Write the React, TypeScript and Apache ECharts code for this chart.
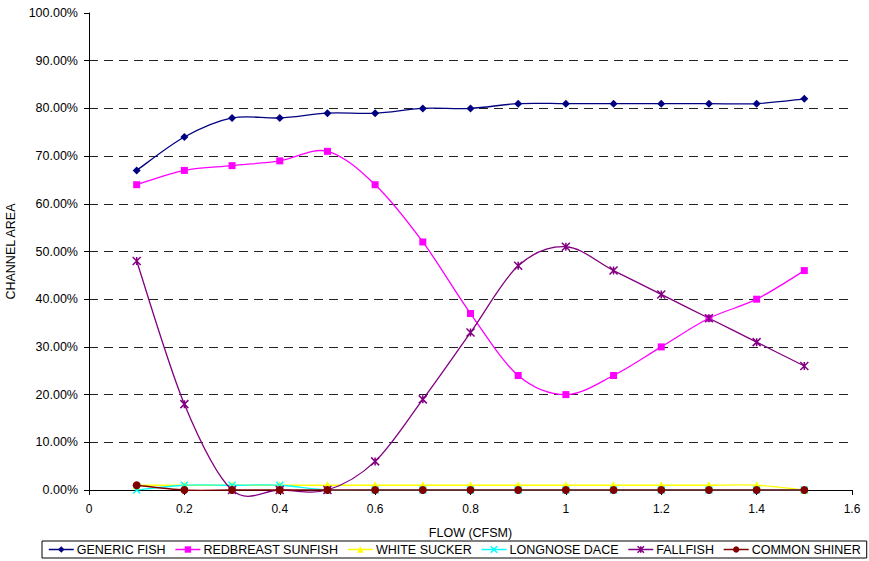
import React, { useEffect, useRef } from "react";
import * as echarts from "echarts";

const flows = [0.1, 0.2, 0.3, 0.4, 0.5, 0.6, 0.7, 0.8, 0.9, 1.0, 1.1, 1.2, 1.3, 1.4, 1.5];
const genericFish = [67, 74, 78, 78, 79, 79, 80, 80, 81, 81, 81, 81, 81, 81, 82];
const redbreastSunfish = [64, 67, 68, 69, 71, 64, 52, 37, 24, 20, 24, 30, 36, 40, 46];
const whiteSucker = [1, 1, 1, 1, 1, 1, 1, 1, 1, 1, 1, 1, 1, 1, 0];
const longnoseDace = [0, 1, 1, 1, 0, 0, 0, 0, 0, 0, 0, 0, 0, 0, 0];
const fallfish = [48, 18, 0, 0, 0, 6, 19, 33, 47, 51, 46, 41, 36, 31, 26];
const commonShiner = [1, 0, 0, 0, 0, 0, 0, 0, 0, 0, 0, 0, 0, 0, 0];

const seriesDefs = [
  { name: "GENERIC FISH", data: genericFish, color: "#000080", symbol: "diamond", size: 8 },
  { name: "REDBREAST SUNFISH", data: redbreastSunfish, color: "#FF00FF", symbol: "rect", size: 7 },
  { name: "WHITE SUCKER", data: whiteSucker, color: "#FFFF00", symbol: "triangle", size: 8 },
  { name: "LONGNOSE DACE", data: longnoseDace, color: "#00FFFF", symbol: "path://M0,0L10,10M10,0L0,10", size: 7, stroke: true },
  { name: "FALLFISH", data: fallfish, color: "#800080", symbol: "path://M0,0L10,10M10,0L0,10M5,0L5,10", size: 8, stroke: true },
  { name: "COMMON SHINER", data: commonShiner, color: "#800000", symbol: "circle", size: 8 },
];

export default function App() {
  const ref = useRef<HTMLDivElement>(null);
  useEffect(() => {
    if (!ref.current) return;
    const chart = echarts.init(ref.current, null, { renderer: "svg" });
    const font = "Liberation Sans, Arial, sans-serif";
    const gridColors = ["transparent", "#222", "#222", "#222", "#222", "#222", "#222", "#222", "#222", "#222", "transparent"];

    // Excel-style (Catmull-Rom) smoothed curves drawn through the axes' own coordinates
    const curveSeries = seriesDefs.map((s, si) => ({
      type: "custom",
      name: "curve_" + si,
      z: 2 + si * 0.01,
      clip: false,
      silent: true,
      coordinateSystem: "cartesian2d",
      data: flows.map((f, j) => [f, s.data[j]]),
      encode: { x: 0, y: 1 },
      renderItem: (params: any, api: any) => {
        const i = params.dataIndexInside;
        const n = params.dataInsideLength;
        if (i >= n - 1) return null;
        const pt = (k: number) => api.coord([api.value(0, k), api.value(1, k)]);
        const p0 = pt(Math.max(i - 1, 0));
        const p1 = pt(i);
        const p2 = pt(i + 1);
        const p3 = pt(Math.min(i + 2, n - 1));
        const c1x = p1[0] + (p2[0] - p0[0]) / 6;
        const c1y = p1[1] + (p2[1] - p0[1]) / 6;
        const c2x = p2[0] - (p3[0] - p1[0]) / 6;
        const c2y = p2[1] - (p3[1] - p1[1]) / 6;
        return {
          type: "bezierCurve",
          shape: { x1: p1[0], y1: p1[1], x2: p2[0], y2: p2[1], cpx1: c1x, cpy1: c1y, cpx2: c2x, cpy2: c2y },
          style: { stroke: s.color, lineWidth: 1.3, fill: "none" },
        };
      },
    }));

    const markerSeries = seriesDefs.map((s, i) => ({
      name: s.name,
      type: "line",
      z: 5 + i * 0.01,
      clip: false,
      symbol: s.symbol,
      symbolSize: s.size,
      showAllSymbol: true,
      data: flows.map((f, j) => [f, s.data[j]]),
      lineStyle: { color: s.color, width: 0, opacity: 0 },
      itemStyle: {
        color: s.color,
        borderColor: s.color,
        borderWidth: s.stroke ? 1.5 : 0,
        opacity: 1,
      },
      emphasis: { disabled: true },
    }));

    chart.setOption({
      animation: false,
      backgroundColor: "#fff",
      textStyle: { fontFamily: font },
      grid: { left: 89, right: 17, top: 13, bottom: 71, containLabel: false, outerBoundsMode: "none" },
      legend: {
        left: 42,
        bottom: 3,
        width: 850,
        padding: [2, 6, 2, 6],
        borderColor: "#000",
        borderWidth: 1,
        itemGap: 9,
        itemWidth: 25,
        itemHeight: 8,
        textStyle: { fontFamily: font, fontSize: 12.5, color: "#000", padding: [0, 0, 0, -2] },
        data: seriesDefs.map((s) => ({
          name: s.name,
          lineStyle: { color: s.color, width: 1.5, opacity: 1 },
          itemStyle: { color: s.color, borderColor: s.color, borderWidth: s.stroke ? 1.5 : 0, opacity: 1 },
        })),
      },
      xAxis: {
        type: "value",
        min: 0,
        max: 1.6,
        interval: 0.2,
        name: "FLOW (CFSM)",
        nameLocation: "middle",
        nameGap: 36,
        nameTextStyle: { fontFamily: font, fontSize: 12.5, color: "#000" },
        axisLine: { show: true, onZero: false, lineStyle: { color: "#000", width: 1 } },
        axisTick: { show: true, inside: false, length: 5, lineStyle: { color: "#000" } },
        axisLabel: { fontFamily: font, fontSize: 12, color: "#000", margin: 13 },
        splitLine: { show: false },
      },
      yAxis: {
        type: "value",
        min: 0,
        max: 100,
        interval: 10,
        name: "CHANNEL AREA",
        nameLocation: "middle",
        nameGap: 64,
        nameTextStyle: { fontFamily: font, fontSize: 12.5, color: "#000" },
        axisLine: { show: true, lineStyle: { color: "#000", width: 1 } },
        axisTick: { show: true, inside: false, length: 5, lineStyle: { color: "#000" } },
        axisLabel: {
          fontFamily: font,
          fontSize: 12.5,
          color: "#000",
          margin: 11,
          formatter: (v: number) => v.toFixed(2) + "%",
        },
        splitLine: { show: true, lineStyle: { color: gridColors, type: [9, 6], width: 1 } },
      },
      series: [...curveSeries, ...markerSeries],
    });
    return () => chart.dispose();
  }, []);
  return <div ref={ref} style={{ width: 869, height: 561, position: "absolute", left: 0, top: 0 }} />;
}
